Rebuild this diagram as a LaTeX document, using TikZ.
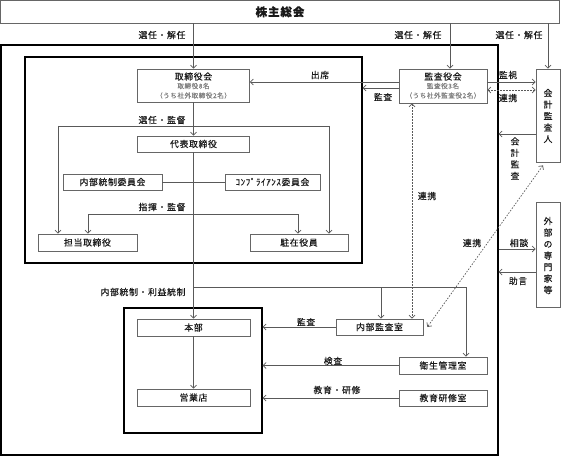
\documentclass[tikz,border=0pt]{standalone}
\usepackage{fontspec}
\setmainfont{Noto Sans CJK JP}[LetterSpace=8, FakeBold=0.4]
\usetikzlibrary{arrows.meta}

\newcommand\jptitle{\fontsize{11.5}{13}\selectfont\bfseries}
\newcommand\jplbl{\fontsize{8.8}{10}\selectfont}
\newcommand\jpsub{\fontsize{6.6}{8}\selectfont}
\newcommand\jpvert{\fontsize{8.8}{11.5}\selectfont}

\tikzset{
  box/.style={draw=black!60, line width=0.7pt, fill=white, inner sep=0pt, font=\jplbl, text=black!90},
  frame/.style={draw=black, line width=1.3pt, inner sep=0pt},
  line/.style={draw=black!65, line width=0.7pt},
  arr/.style={line, -{Straight Barb[length=3pt,width=6pt]}},
  dasharr/.style={line, dash pattern=on 1.5pt off 1.5pt, {Straight Barb[length=3pt,width=6pt]}-{Straight Barb[length=3pt,width=6pt]}},
  lbl/.style={font=\jplbl, text=black!90, inner sep=0pt},
  sub/.style={font=\jpsub, text=black!50, inner sep=0pt},
  vtext/.style={lbl, align=center, font=\jpvert},
}

\begin{document}
\begin{tikzpicture}[x=1pt,y=-1pt]
  \useasboundingbox (0,0) rectangle (561,457);

  \node[frame, minimum width=497pt, minimum height=410pt] (outer) at (249.5,250) {};
  \node[frame, minimum width=337pt, minimum height=206pt] (inner) at (193.5,160) {};
  \node[frame, minimum width=138pt, minimum height=125pt] (lower) at (193,370.5) {};

  \node[box, minimum width=559pt, minimum height=22.5pt, font=\jptitle] (kabu) at (280,11.75) {株主総会};

  \node[box, minimum width=112pt, minimum height=33pt] (board) at (193.5,85.5) {};
  \node[lbl] (boardT) at (193.5,76.5) {取締役会};
  \node[sub] (boardN) at (193.5,86) {取締役8名};
  \node[sub] (boardO) at (193.5,95.5) {（うち社外取締役2名）};

  \node[box, minimum width=88pt, minimum height=34pt] (kansa) at (443,86) {};
  \node[lbl] (kansaT) at (443,76.5) {監査役会};
  \node[sub] (kansaN) at (443,86) {監査役3名};
  \node[sub] (kansaO) at (443,95.5) {（うち社外監査役2名）};

  \node[box, minimum width=24pt, minimum height=93pt] (kaikei) at (548,115.5) {};
  \node[vtext] (kaikeiT) at (548,116) {会\\計\\監\\査\\人};
  \node[box, minimum width=24pt, minimum height=105pt] (gaibu) at (548,254.5) {};
  \node[vtext] (gaibuT) at (548,255.5) {外\\部\\の\\専\\門\\家\\等};

  \node[box, minimum width=112pt, minimum height=16pt] (daihyo) at (193.5,144) {代表取締役};
  \node[box, minimum width=99pt, minimum height=16pt] (naibuI) at (112.5,182) {内部統制委員会};
  \node[box, minimum width=95pt, minimum height=16pt] (comp) at (272.5,182) {ｺﾝﾌﾟﾗｲｱﾝｽ委員会};
  \node[box, minimum width=99pt, minimum height=17pt] (tanto) at (87.5,242.5) {担当取締役};
  \node[box, minimum width=98pt, minimum height=17pt] (chuzai) at (299,242.5) {駐在役員};

  \node[box, minimum width=113pt, minimum height=17pt] (honbu) at (193.5,327.5) {本部};
  \node[box, minimum width=113pt, minimum height=17pt] (eigyo) at (193.5,397.5) {営業店};
  \node[box, minimum width=87pt, minimum height=16pt] (naibuK) at (379.5,327) {内部監査室};
  \node[box, minimum width=88pt, minimum height=17pt] (eisei) at (443,365.5) {衛生管理室};
  \node[box, minimum width=88pt, minimum height=16pt] (kyoiku) at (443,398) {教育研修室};

  \draw[arr] (kabu.south -| board.north) -- (board.north);
  \draw[arr] (kabu.south -| 450,0) -- (kansa.north -| 450,0);
  \draw[arr] (kabu.south -| kaikei.north) -- (kaikei.north);
  \node[lbl] (selA) at (162,35) {選任・解任};
  \node[lbl] (selB) at (418,35) {選任・解任};
  \node[lbl] (selC) at (519,35) {選任・解任};

  \draw[arr] (kansa.west |- 0,82) -- (board.east |- 0,82);
  \draw[arr] (kansa.west |- 0,88) -- (inner.east |- 0,88);
  \node[lbl] (attend) at (320,75) {出席};
  \node[lbl] (audA) at (383,97) {監査};

  \draw[arr] (kansa.east |- 0,82) -- (kaikei.west |- 0,82);
  \draw[dasharr] (kansa.east |- 0,90) -- (kaikei.west |- 0,90);
  \node[lbl] (watch) at (508,75) {監視};
  \node[lbl] (coopA) at (508,98) {連携};
  \draw[arr] (kaikei.west |- 0,134) -- (outer.east |- 0,134);
  \node[vtext] (accAud) at (515,158.5) {会\\計\\監\\査};

  \draw[arr] (outer.east |- 0,249) -- (gaibu.west |- 0,249);
  \draw[arr] (gaibu.west |- 0,272) -- (outer.east |- 0,272);
  \node[lbl] (consult) at (519,243) {相談};
  \node[lbl] (advice) at (518,281) {助言};

  \draw[dasharr] (kansa.south -| 412,0) -- (naibuK.north -| 412,0);
  \node[lbl] (coopB) at (427,196) {連携};
  \draw[dasharr] ([shift={(-5,3)}]kaikei.south) -- ([shift={(4,0)}]naibuK.east);
  \node[lbl] (coopC) at (472,243) {連携};

  \coordinate (selL) at (58,126);
  \coordinate (selR) at (329,126);
  \draw[arr] (board.south) -- (daihyo.north);
  \draw[line] (selL) -- (selR);
  \draw[arr] (selL) -- (selL |- tanto.north);
  \draw[arr] (selR) -- (selR |- chuzai.north);
  \node[lbl] (selSup) at (162,120) {選任・監督};

  \draw[line] (naibuI) -- (comp);

  \coordinate (cmdL) at (88,214);
  \coordinate (cmdR) at (298,214);
  \draw[line] (cmdL) -- (cmdR);
  \draw[arr] (cmdL) -- (cmdL |- tanto.north);
  \draw[arr] (cmdR) -- (cmdR |- chuzai.north);
  \node[lbl] (cmdSup) at (162,207) {指揮・監督};

  \coordinate (ctlJ) at (193.5,287);
  \coordinate (ctlM) at (381,287);
  \coordinate (ctlR) at (466,287);
  \draw[arr] (daihyo.south) -- (honbu.north);
  \draw[line] (ctlJ) -- (ctlR);
  \draw[arr] (ctlM) -- (ctlM |- naibuK.north);
  \draw[arr] (ctlR) -- (ctlR |- eisei.north);
  \node[lbl] (ctlLbl) at (143,292) {内部統制・利益統制};

  \draw[arr] (honbu) -- (eigyo);
  \draw[arr] (naibuK.west) -- (lower.east |- naibuK.west);
  \draw[arr] (eisei.west) -- (lower.east |- eisei.west);
  \draw[arr] (kyoiku.west) -- (lower.east |- kyoiku.west);
  \node[lbl] (audB) at (306,322) {監査};
  \node[lbl] (inspect) at (333,361) {検査};
  \node[lbl] (train) at (337,390) {教育・研修};
\end{tikzpicture}
\end{document}
